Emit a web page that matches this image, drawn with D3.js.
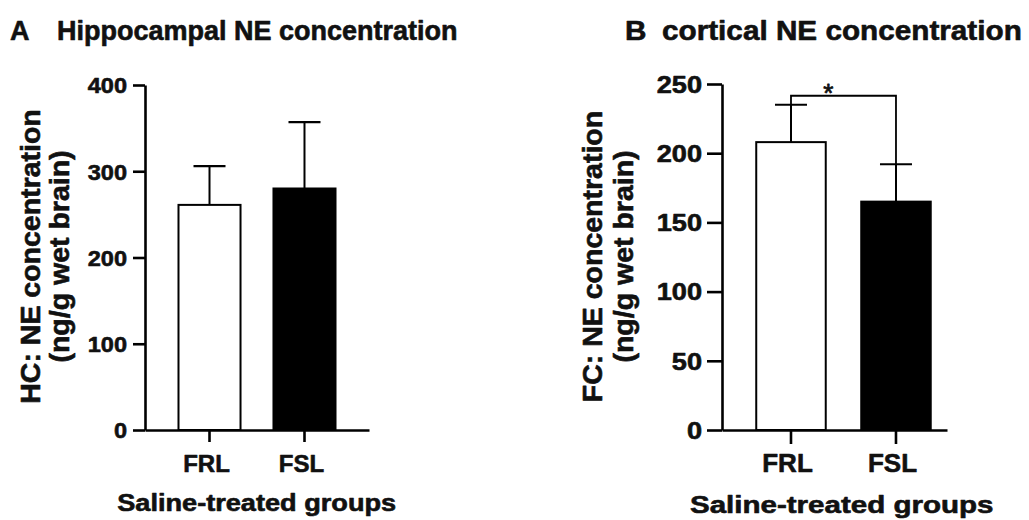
<!DOCTYPE html>
<html><head><meta charset="utf-8">
<script src="https://cdn.jsdelivr.net/npm/d3@7"></script>
<style>
body{margin:0;background:#fff}
svg{display:block}
text{font-family:"Liberation Sans",Arial,Helvetica,sans-serif;font-weight:bold;fill:#111;stroke:#111;stroke-width:0.6px;stroke-linejoin:round}
</style>
</head><body>
<svg id="c" width="1029" height="520"></svg>
<script>
// ---------- data ----------
const categories = ["FRL", "FSL"];
const hcMean = [261, 280];
const hcSem  = [45, 77];
const fcMean = [208, 165];
const fcSem  = [27, 27];
const hcTicks = [0, 100, 200, 300, 400];
const fcTicks = [0, 50, 100, 150, 200, 250];
const fcSigPair = ["FRL", "FSL"];
const fcSigLevel = 241.5;
const fcSigLabel = "*";
const barFills = ["#ffffff", "#000000"];

const svg = d3.select("#c");

function stretch(sel, sx) {
  if (sx === 1) return;
  sel.each(function () {
    const w = this.getComputedTextLength();
    if (w > 0) {
      this.setAttribute("textLength", w * sx);
      this.setAttribute("lengthAdjust", "spacingAndGlyphs");
    }
  });
}

function drawPanel(o) {
  const g = svg.append("g");
  const y = d3.scaleLinear().domain([0, o.yMax]).range([o.y0, o.y1]);
  const x = d3.scaleBand().domain(categories).range([o.x0, o.x1])
    .paddingInner(o.pi).paddingOuter(o.po).align(o.align);

  // bars
  g.selectAll("rect.bar").data(categories).join("rect")
    .attr("class", "bar")
    .attr("x", d => x(d))
    .attr("width", x.bandwidth())
    .attr("y", (d, i) => y(o.mean[i]))
    .attr("height", (d, i) => y(0) - y(o.mean[i]))
    .attr("fill", (d, i) => barFills[i])
    .attr("stroke", "#000").attr("stroke-width", 2);

  // error bars
  const cx = d => x(d) + x.bandwidth() / 2;
  g.selectAll("line.err").data(categories).join("line")
    .attr("class", "err")
    .attr("x1", cx).attr("x2", cx)
    .attr("y1", (d, i) => y(o.mean[i]))
    .attr("y2", (d, i) => y(o.mean[i] + o.sem[i]))
    .attr("stroke", "#000").attr("stroke-width", 2);
  g.selectAll("line.cap").data(categories).join("line")
    .attr("class", "cap")
    .attr("x1", d => cx(d) - o.cap / 2).attr("x2", d => cx(d) + o.cap / 2)
    .attr("y1", (d, i) => y(o.mean[i] + o.sem[i]))
    .attr("y2", (d, i) => y(o.mean[i] + o.sem[i]))
    .attr("stroke", "#000").attr("stroke-width", 2.2);

  // y axis
  const ya = g.append("g").attr("transform", `translate(${o.x0},0)`)
    .call(d3.axisLeft(y).tickValues(o.ticks).tickSize(o.tick).tickSizeOuter(0)
      .tickPadding(o.tpad).tickFormat(d3.format("d")));
  ya.attr("font-family", null).attr("font-size", o.ytFont);
  ya.select(".domain").attr("stroke", "#000").attr("stroke-width", 2.6);
  ya.selectAll(".tick line").attr("stroke", "#000").attr("stroke-width", 2.6);
  ya.selectAll(".tick text").attr("dy", "0.36em");
  stretch(ya.selectAll(".tick text"), o.ytSx);

  // x axis
  const xa = g.append("g").attr("transform", `translate(0,${o.y0})`)
    .call(d3.axisBottom(x).tickSize(o.xtick).tickSizeOuter(0));
  xa.attr("font-family", null).attr("font-size", o.xtFont);
  xa.select(".domain").attr("stroke", "#000").attr("stroke-width", 2.6);
  xa.selectAll(".tick line").attr("stroke", "#000").attr("stroke-width", 2.6);
  xa.selectAll(".tick text").attr("y", o.xtBase - o.y0).attr("dy", 0).attr("dx", o.xtDx);

  // y-axis title (two lines)
  o.yLabel.forEach((t, i) => {
    g.append("text")
      .attr("transform", `translate(${o.yLabX[i]},${o.yLabY}) rotate(-90)`)
      .attr("text-anchor", "middle").attr("font-size", o.yLabFont)
      .text(t);
  });

  // x-axis title
  const xl = g.append("text").attr("x", o.xLabX).attr("y", o.xLabY)
    .attr("text-anchor", "middle").attr("font-size", o.xLabFont)
    .text("Saline-treated groups");
  stretch(xl, o.xLabSx);

  // panel title
  const tl = g.append("text").attr("x", o.letterX).attr("y", 40)
    .attr("font-size", o.titleFont).text(o.letter);
  stretch(tl, o.titleSx);
  const tt = g.append("text").attr("x", o.titleX).attr("y", 40)
    .attr("font-size", o.titleFont).text(o.title);
  stretch(tt, o.titleSx);

  return { g, x, y, cx };
}

// Panel A
drawPanel({
  mean: hcMean, sem: hcSem, ticks: hcTicks, yMax: 400,
  x0: 145, x1: 369, y0: 430, y1: 85,
  pi: 0.347, po: 0.3526, align: 0.5, cap: 32,
  tick: 12, tpad: 6, ytFont: 22, ytSx: 1.07,
  xtick: 12, xtFont: 24, xtBase: 472, xtDx: -3,
  yLabel: ["HC: NE concentration", "(ng/g wet brain)"], yLabX: [40, 69], yLabY: 256.5, yLabFont: 28.5,
  xLabX: 256.7, xLabY: 511, xLabFont: 23, xLabSx: 1.18,
  letter: "A", letterX: 10, title: "Hippocampal NE concentration", titleX: 57, titleFont: 27, titleSx: 1
});

// Panel B
const pB = drawPanel({
  mean: fcMean, sem: fcSem, ticks: fcTicks, yMax: 250,
  x0: 722, x1: 947, y0: 430, y1: 84,
  pi: 0.338, po: 0.2405, align: 0.678, cap: 32,
  tick: 15, tpad: 5, ytFont: 23, ytSx: 1.18,
  xtick: 14, xtFont: 26, xtBase: 471.7, xtDx: -3.5,
  yLabel: ["FC: NE concentration", "(ng/g wet brain)"], yLabX: [601.5, 633], yLabY: 256.5, yLabFont: 28.5,
  xLabX: 841.7, xLabY: 512.7, xLabFont: 24, xLabSx: 1.23,
  letter: "B", letterX: 625, title: "cortical NE concentration", titleX: 662, titleFont: 27, titleSx: 1.1
});

// significance bracket
(function () {
  const { g, y, cx } = pB;
  const i0 = categories.indexOf(fcSigPair[0]), i1 = categories.indexOf(fcSigPair[1]);
  const xa = cx(fcSigPair[0]), xb = cx(fcSigPair[1]);
  const yl = y(fcSigLevel);
  const path = d3.path();
  path.moveTo(xa, y(fcMean[i0] + fcSem[i0]));
  path.lineTo(xa, yl);
  path.lineTo(xb, yl);
  path.lineTo(xb, y(fcMean[i1] + fcSem[i1]));
  g.append("path").attr("d", path.toString()).attr("fill", "none")
    .attr("stroke", "#000").attr("stroke-width", 1.8);
  g.append("text").attr("x", xa + (xb - xa) * 0.355).attr("y", yl + 6)
    .attr("text-anchor", "middle").attr("font-size", 26)
    .style("font-weight", "normal").style("stroke-width", "0.8px").text(fcSigLabel);
})();
</script>
</body></html>
